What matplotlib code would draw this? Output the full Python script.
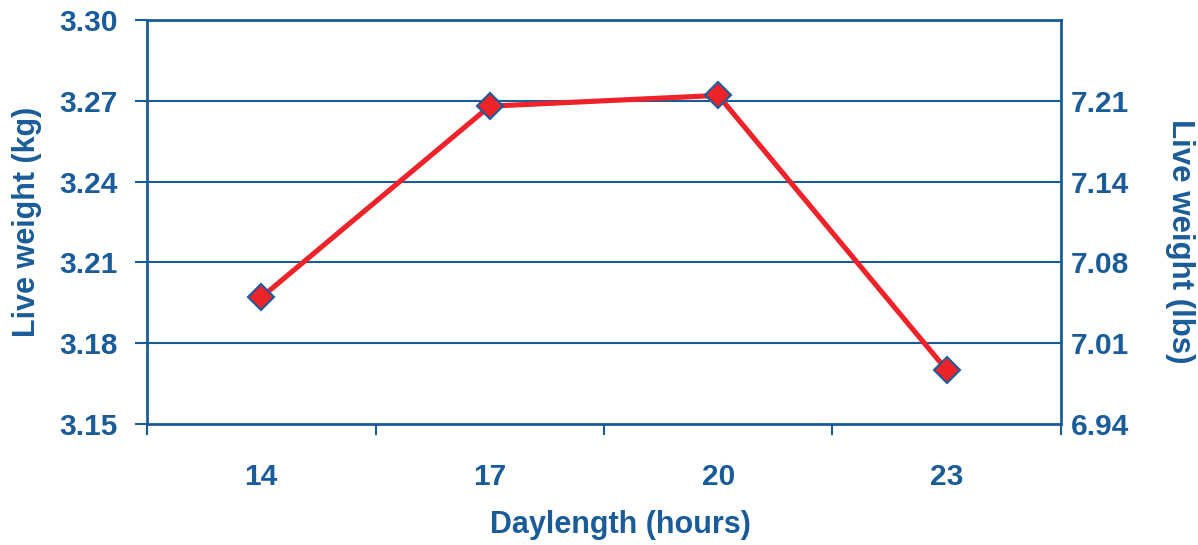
import numpy as np
import matplotlib.pyplot as plt

# daylength treatments and mean live weight
daylength = ["14", "17", "20", "23"]
weight_kg = [3.197, 3.268, 3.272, 3.170]
kg_ticks = [3.15, 3.18, 3.21, 3.24, 3.27, 3.30]
KG_TO_LB = 2.20462

blue = "#1A5C99"
red = "#EE2229"

plt.rcParams["font.family"] = ["Liberation Sans", "DejaVu Sans"]
plt.rcParams["font.weight"] = "bold"
plt.rcParams["axes.labelweight"] = "bold"

fig = plt.figure(figsize=(11.98, 5.45), dpi=100)
ax = fig.add_axes([147 / 1198, 1 - 424 / 545, (1061 - 147) / 1198, (424 - 20) / 545])

x = np.arange(len(daylength))
ax.plot(x, weight_kg, color=red, lw=3.7, marker="D", markersize=13,
        markerfacecolor=red, markeredgecolor=blue, markeredgewidth=1.5, zorder=3)

ax.set_xlim(-0.5, len(daylength) - 0.5)
ax.set_ylim(kg_ticks[0], kg_ticks[-1])
ax.set_yticks(kg_ticks)
ax.set_yticklabels(["%.2f" % v for v in kg_ticks])
for v in kg_ticks[1:-1]:
    ax.axhline(v, color=blue, lw=1.5, zorder=1)

ax.set_xticks(x)
ax.set_xticklabels(daylength)
ax.set_xticks(np.arange(-0.5, len(daylength)), minor=True)
ax.tick_params(axis="x", which="major", length=0, pad=28, labelsize=21.5, labelcolor=blue)
ax.tick_params(axis="x", which="minor", length=8, width=1.5, color=blue)
ax.tick_params(axis="y", length=9, width=1.5, color=blue, pad=12, labelsize=21.5, labelcolor=blue)

for s in ax.spines.values():
    s.set_color(blue)
    s.set_linewidth(2)

ax.set_xlabel("Daylength (hours)", fontsize=22, color=blue)
ax.xaxis.set_label_coords((620 - 147) / 914, -(525 - 424) / 404)
ax.xaxis.label.set_va("center")
ax.set_ylabel("Live weight (kg)", fontsize=22, color=blue)
ax.yaxis.set_label_coords(-(147 - 27) / 914, 1 - (222 - 20) / 404)
ax.yaxis.label.set_va("center")

# second axis in pounds
ax2 = ax.twinx()
ax2.set_ylim(kg_ticks[0], kg_ticks[-1])
ax2.set_yticks(kg_ticks[:-1])
ax2.set_yticklabels(["%.2f" % (v * KG_TO_LB) for v in kg_ticks[:-1]])
ax2.tick_params(axis="y", length=0, pad=7, labelsize=21.5, labelcolor=blue)
for s in ax2.spines.values():
    s.set_visible(False)
ax2.set_ylabel("Live weight (lbs)", fontsize=22.5, color=blue, rotation=270)
ax2.yaxis.set_label_coords((1180 - 147) / 914, 1 - (241 - 20) / 404)
ax2.yaxis.label.set_va("center")

fig.savefig("out.png", dpi=100)
